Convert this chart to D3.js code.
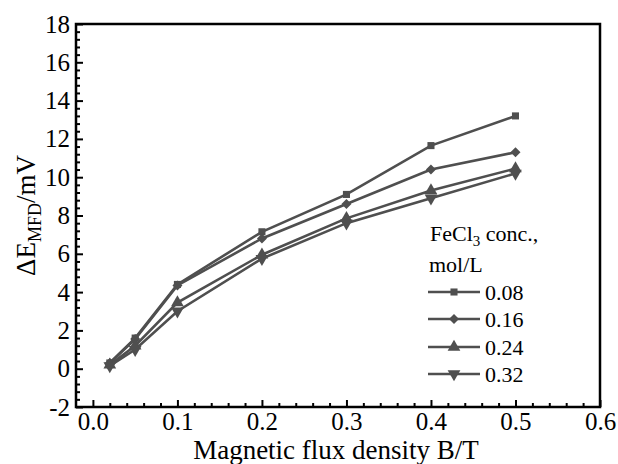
<!DOCTYPE html>
<html>
<head>
<meta charset="utf-8">
<script src="https://cdn.jsdelivr.net/npm/d3@7"></script>
<style>
  html, body { margin: 0; padding: 0; background: #fff; }
  svg { display: block; }
  svg text { font-family: "Liberation Serif", "Times New Roman", Times, serif; }
</style>
</head>
<body>
<svg id="chart" width="618" height="464"></svg>
<script>
// Magnetic flux density (T)
const fluxDensity = [0.02, 0.05, 0.1, 0.2, 0.3, 0.4, 0.5];
// FeCl3 concentrations (mol/L)
const concentrations = ["0.08", "0.16", "0.24", "0.32"];
// ΔE_MFD (mV) for each concentration
const series008 = [0.3, 1.6, 4.4, 7.15, 9.1, 11.65, 13.2];
const series016 = [0.3, 1.55, 4.35, 6.8, 8.6, 10.4, 11.3];
const series024 = [0.2, 1.2, 3.45, 5.95, 7.85, 9.3, 10.45];
const series032 = [0.15, 1.0, 3.0, 5.75, 7.6, 8.9, 10.2];
const xTickValues = [0, 0.1, 0.2, 0.3, 0.4, 0.5, 0.6];
const yTickValues = [-2, 0, 2, 4, 6, 8, 10, 12, 14, 16, 18];

const allSeries = [series008, series016, series024, series032];
// square, rhombus (square turned 45°), up triangle, down triangle
const markerTypes = [d3.symbolSquare, d3.symbolSquare, d3.symbolTriangle, d3.symbolTriangle];
const markerSizes = [50, 50, 70, 70];
const markerRotate = [0, 45, 0, 180];
const ink = "#4f4f4f";
const serif = "Liberation Serif";

const svg = d3.select("#chart");
const margin = { left: 76, top: 24, right: 18, bottom: 57 };
const W = 618, H = 464;

const x = d3.scaleLinear().domain([-0.02, 0.6]).range([margin.left, W - margin.right]);
const y = d3.scaleLinear().domain([-2, 18]).range([H - margin.bottom, margin.top]);

// Minor ticks (inward)
const xMinor = d3.range(0, 0.6001, 0.02).filter(v => Math.abs(v * 10 - Math.round(v * 10)) > 1e-6);
const yMinor = d3.range(-2, 18.001, 0.4).filter(v => Math.abs(v / 2 - Math.round(v / 2)) > 1e-6);

const gx = svg.append("g").attr("transform", `translate(0,${y(-2)})`);
gx.call(d3.axisBottom(x).tickValues(xMinor).tickSize(-4).tickFormat(""))
  .call(g => g.select(".domain").remove())
  .selectAll("line").attr("stroke", "#000").attr("stroke-width", 2);
const gx2 = svg.append("g").attr("transform", `translate(0,${y(-2)})`);
gx2.call(d3.axisBottom(x).tickValues(xTickValues).tickSize(-7).tickPadding(5).tickFormat(d => d.toFixed(1)))
  .call(g => g.select(".domain").remove());
gx2.attr("font-family", serif).attr("font-size", 25);
gx2.selectAll("line").attr("stroke", "#000").attr("stroke-width", 2);
gx2.selectAll("text").attr("fill", "#000");

const gy = svg.append("g").attr("transform", `translate(${x(-0.02)},0)`);
gy.call(d3.axisLeft(y).tickValues(yMinor).tickSize(-4).tickFormat(""))
  .call(g => g.select(".domain").remove())
  .selectAll("line").attr("stroke", "#000").attr("stroke-width", 2);
const gy2 = svg.append("g").attr("transform", `translate(${x(-0.02)},0)`);
gy2.call(d3.axisLeft(y).tickValues(yTickValues).tickSize(-7).tickPadding(6).tickFormat(d => String(d)))
  .call(g => g.select(".domain").remove());
gy2.attr("font-family", serif).attr("font-size", 25);
gy2.selectAll("line").attr("stroke", "#000").attr("stroke-width", 2);
gy2.selectAll("text").attr("fill", "#000");

// Frame
svg.append("rect")
  .attr("x", x(-0.02)).attr("y", y(18))
  .attr("width", x(0.6) - x(-0.02)).attr("height", y(-2) - y(18))
  .attr("fill", "none").attr("stroke", "#000").attr("stroke-width", 2.5);

// Lines and markers
const line = d3.line().x((d, i) => x(fluxDensity[i])).y(d => y(d));
allSeries.forEach((vals, s) => {
  svg.append("path").datum(vals)
    .attr("d", line).attr("fill", "none")
    .attr("stroke", ink).attr("stroke-width", 2.6);
  svg.append("g").selectAll("path").data(vals).join("path")
    .attr("d", d3.symbol().type(markerTypes[s]).size(markerSizes[s]))
    .attr("transform", (d, i) => `translate(${x(fluxDensity[i])},${y(d)}) rotate(${markerRotate[s]})`)
    .attr("fill", ink);
});

// Legend
const lg = svg.append("g").attr("font-family", serif);
const title1 = lg.append("text").attr("x", 430).attr("y", 241).attr("font-size", 22).attr("fill", "#000");
title1.append("tspan").text("FeCl");
title1.append("tspan").attr("font-size", 15).attr("dy", 5).text("3");
title1.append("tspan").attr("dy", -5).text(" conc.,");
lg.append("text").attr("x", 429).attr("y", 272).attr("font-size", 22).attr("fill", "#000").text("mol/L");
const legendY = [292, 319, 347, 374];
concentrations.forEach((c, s) => {
  const yy = legendY[s];
  lg.append("line").attr("x1", 428).attr("x2", 480).attr("y1", yy).attr("y2", yy)
    .attr("stroke", ink).attr("stroke-width", 2.6);
  lg.append("path")
    .attr("d", d3.symbol().type(markerTypes[s]).size(markerSizes[s]))
    .attr("transform", `translate(454,${yy}) rotate(${markerRotate[s]})`)
    .attr("fill", ink);
  lg.append("text").attr("x", 485).attr("y", yy + 8).attr("font-size", 22).attr("fill", "#000").text(c);
});

// Axis titles
svg.append("text").attr("x", 336).attr("y", 459)
  .attr("text-anchor", "middle").attr("font-size", 27).attr("fill", "#000")
  .attr("font-family", serif)
  .text("Magnetic flux density B/T");

const yt = svg.append("text")
  .attr("transform", `translate(35,${(y(-2) + y(18)) / 2}) rotate(-90)`)
  .attr("text-anchor", "middle").attr("font-size", 27).attr("fill", "#000")
  .attr("font-family", serif);
yt.append("tspan").text("ΔE");
yt.append("tspan").attr("font-size", 18).attr("dy", 6).text("MFD");
yt.append("tspan").attr("dy", -6).text("/mV");
</script>
</body>
</html>
